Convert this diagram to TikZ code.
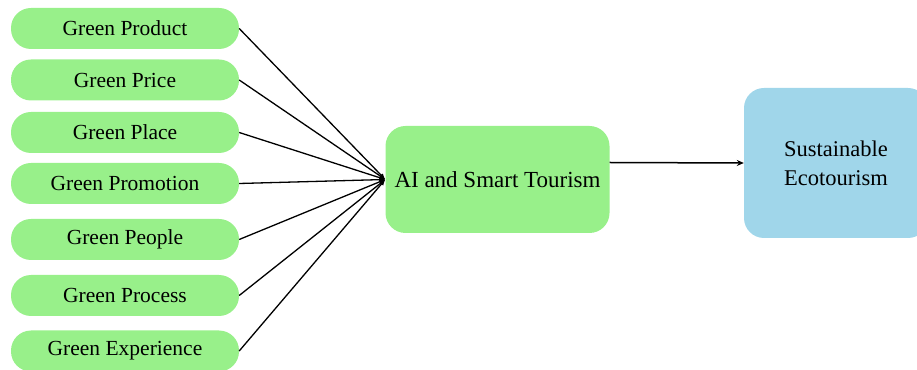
\documentclass[tikz,border=0pt]{standalone}
\usepackage{fontspec}
\setmainfont{Liberation Serif}
\usetikzlibrary{arrows.meta}
\definecolor{mixgreen}{RGB}{152,240,138}
\definecolor{goalblue}{RGB}{160,214,234}
\tikzset{
  mixbox/.style={fill=mixgreen, rounded corners=20pt, minimum width=228pt, minimum height=41pt,
    inner sep=0pt, font=\fontsize{21.5}{24}\selectfont},
  hubbox/.style={fill=mixgreen, rounded corners=20pt, minimum width=224pt, minimum height=107pt,
    inner sep=0pt, font=\fontsize{23}{26}\selectfont},
  goalbox/.style={fill=goalblue, rounded corners=20pt, minimum width=184pt, minimum height=150pt,
    inner sep=0pt, align=center, font=\fontsize{22.5}{29}\selectfont},
  feed/.style={line width=1.3pt, -{Latex[length=6pt,width=5pt]}},
  link/.style={line width=1.5pt, -{Stealth[length=7pt,width=6pt]}}
}
\begin{document}
\begin{tikzpicture}[x=1pt,y=1pt]
\useasboundingbox (0,0) rectangle (917,369);
\clip (0,0) rectangle (917,369);

% marketing mix elements
\node[mixbox] (p1) at (125,340.5) {Green Product};
\node[mixbox] (p2) at (125,289)   {Green Price};
\node[mixbox] (p3) at (125,236.5) {Green Place};
\node[mixbox] (p4) at (125,185.5) {Green Promotion};
\node[mixbox] (p5) at (125,129.5) {Green People};
\node[mixbox] (p6) at (125,73.5)  {Green Process};
\node[mixbox] (p7) at (125,18)    {Green Experience};

% mediating and outcome blocks
\node[hubbox] (ai) at (497.5,189.5) {AI and Smart Tourism};
\node[goalbox] (se) at (836,206) {Sustainable\\Ecotourism};

% connectors
\foreach \i in {1,...,7}
  \draw[feed] (p\i.east) -- (ai.west);
\draw[link] ([yshift=17pt]ai.east) -- (se.west);
\end{tikzpicture}
\end{document}
